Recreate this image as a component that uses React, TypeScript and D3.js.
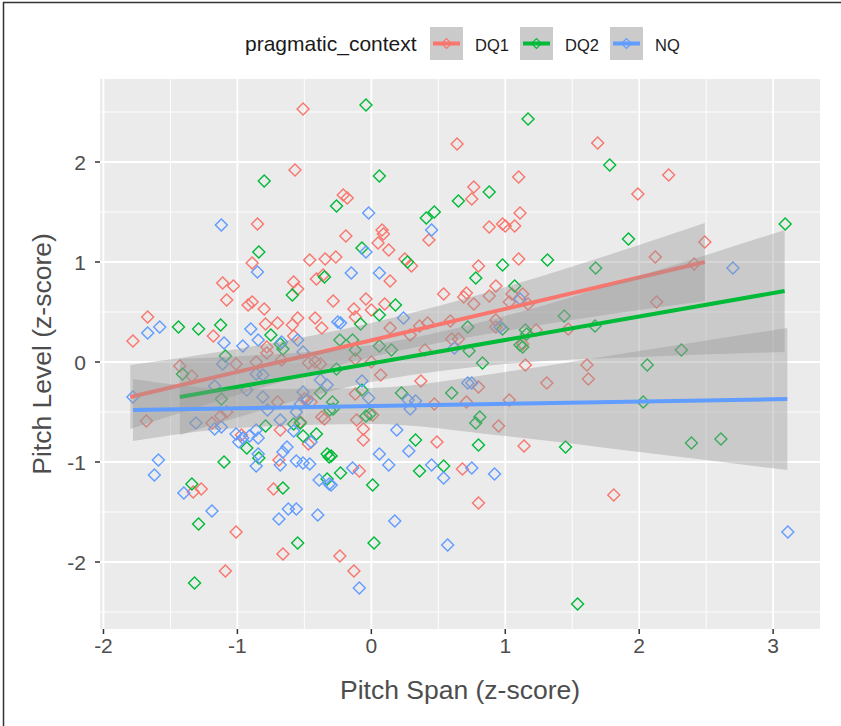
import React from "react";
import { scaleLinear, line, area, curveMonotoneX, symbol, symbolDiamond2, range } from "d3";

// scatter points, [pitch span, pitch level]
const dq1Points = [
  [-0.51, 2.53], [-0.57, 1.92], [-0.85, 1.38], [-0.89, 0.99], [-0.46, 1.02], [-0.345, 1.03], [-0.265, 1.05],
  [-0.21, 1.67], [-0.18, 1.64], [-1.11, 0.79], [-1.03, 0.76], [-1.08, 0.62], [-0.92, 0.57], [-0.89, 0.6],
  [-0.8, 0.53], [-0.58, 0.8], [-0.55, 0.73], [-0.41, 0.83], [-0.36, 0.87], [-0.285, 0.61], [-1.67, 0.45],
  [-1.78, 0.21], [-1.18, 0.26], [-0.79, 0.38], [-0.7, 0.39], [-0.59, 0.37], [-0.55, 0.44], [-0.42, 0.44],
  [-0.37, 0.34], [-0.58, 0.26], [-0.78, 0.15],
  [0.64, 2.18], [1.1, 1.85], [0.765, 1.75], [0.75, 1.63], [0.43, 1.22], [1.11, 1.49], [0.88, 1.35],
  [0.98, 1.38], [1.0, 1.36], [1.07, 1.36], [-0.19, 1.26], [0.08, 1.32], [0.09, 1.28], [0.05, 1.19],
  [0.13, 1.12], [0.25, 1.03], [0.3, 0.96], [1.1, 1.03], [0.8, 0.96], [0.14, 0.81], [-0.04, 0.63],
  [-0.13, 0.53], [-0.12, 0.45], [0.0, 0.52], [0.1, 0.58], [0.54, 0.68], [0.69, 0.65], [0.71, 0.69],
  [0.765, 0.58], [0.88, 0.66], [0.93, 0.76], [1.05, 0.68], [1.13, 0.68], [1.17, 0.58], [1.03, 0.6],
  [0.14, 0.34], [0.29, 0.27], [0.36, 0.36], [0.42, 0.39], [0.59, 0.41], [0.93, 0.42], [0.93, 0.35],
  [1.23, 0.32], [1.47, 0.33], [1.13, 0.18], [0.4, 0.12], [0.6, 0.23], [0.65, 0.23],
  [1.69, 2.19], [2.22, 1.87], [1.99, 1.68], [2.49, 1.2], [2.12, 1.05], [2.41, 0.98], [2.13, 0.6],
  [1.15, -0.03], [1.31, -0.21], [0.37, -0.19], [0.07, -0.13], [0.0, 0.0], [-0.12, 0.03], [-0.12, -0.32],
  [0.8, -0.25], [0.47, -0.42], [0.71, -0.4], [1.03, -0.38], [0.95, -0.64], [-0.11, -0.58], [-0.06, -0.67],
  [-0.06, -0.78], [0.01, -0.53], [0.49, -0.8], [1.14, -0.84], [0.68, -1.07], [0.8, -1.41], [-0.09, -1.09],
  [-0.235, -1.94], [-0.13, -2.09], [1.61, -0.03], [1.62, -0.17], [1.81, -1.33],
  [-1.68, -0.59], [-1.43, -0.04], [-1.34, -0.14], [-1.19, -0.61], [-1.125, -0.54], [-1.08, -0.5],
  [-1.01, -0.02], [-0.86, 0.0], [-0.78, 0.09], [-0.67, 0.02], [-0.47, -0.01], [-0.42, 0.0], [-0.38, -0.02],
  [-0.7, -0.4], [-0.68, -0.68], [-0.97, -0.73], [-1.33, -1.3], [-1.27, -1.27], [-1.01, -1.7], [-1.09, -2.09],
  [-0.53, -0.6], [-0.47, -0.82], [-0.69, -0.98], [-0.73, -1.27], [-0.66, -1.92], [-0.37, -0.55],
  [-0.35, -0.57], [-0.5, -0.37], [-0.45, -0.4],
];

const dq2Points = [
  [-0.8, 1.81], [-0.84, 1.1], [-0.26, 1.56], [-0.59, 0.67], [-0.35, 0.85], [-1.44, 0.35], [-1.29, 0.33],
  [-1.125, 0.37], [-0.75, 0.27], [-0.68, 0.18], [-0.66, 0.13], [-0.235, 0.22], [-1.09, 0.06],
  [-0.04, 2.57], [1.17, 2.43], [0.06, 1.86], [0.88, 1.7], [0.65, 1.61], [0.41, 1.44], [0.47, 1.5],
  [-0.07, 1.14], [0.27, 1.0], [1.315, 1.02], [0.98, 0.97], [0.78, 0.84], [0.18, 0.57], [0.06, 0.47],
  [-0.08, 0.38], [0.72, 0.35], [0.98, 0.33], [1.15, 0.32], [1.16, 0.28], [1.13, 0.15], [1.11, 0.17],
  [1.44, 0.46], [-0.14, 0.22], [0.06, 0.16], [0.15, 0.12], [0.73, 0.11], [-0.12, 0.12], [1.07, 0.76],
  [1.78, 1.97], [3.09, 1.38], [1.92, 1.23], [1.675, 0.94], [1.67, 0.36], [2.315, 0.12],
  [0.83, -0.01], [-0.07, -0.28], [0.225, -0.31], [0.6, -0.31], [0.81, -0.55], [0.78, -0.61],
  [-0.285, -0.47], [-0.04, -0.54], [-0.01, -0.52], [0.33, -0.78], [0.8, -0.83], [1.45, -0.85],
  [0.54, -1.04], [0.36, -1.09], [-0.23, -1.11], [0.01, -1.23], [-0.3, -0.94], [0.02, -1.81], [1.54, -2.42],
  [2.06, -0.03], [2.03, -0.4], [2.39, -0.81], [2.61, -0.77],
  [-1.41, -0.12], [-1.12, -0.37], [-0.26, -0.07], [-0.79, -0.64], [-0.93, -0.86], [-0.84, -0.96],
  [-1.1, -1.0], [-1.34, -1.22], [-1.29, -1.62], [-1.32, -2.21], [-0.58, -0.62], [-0.53, -0.61],
  [-0.51, -0.74], [-0.41, -0.72], [-0.33, -0.92], [-0.315, -0.95], [-0.33, -1.17], [-0.66, -1.26],
  [-0.55, -1.81], [-0.38, -0.31], [-0.29, -0.4], [-0.31, -0.48],
];

const nqPoints = [
  [-1.12, 1.37], [-0.85, 0.9], [-1.67, 0.29], [-1.58, 0.35], [-1.1, 0.19], [-0.96, 0.16], [-0.9, 0.33],
  [-0.845, 0.22], [-0.55, 0.22], [-0.67, 0.2], [-0.25, 0.4], [-0.51, 0.1],
  [-0.02, 1.49], [0.45, 1.32], [-0.04, 1.1], [-0.15, 0.89], [0.06, 0.89], [-0.23, 0.39], [0.24, 0.44],
  [1.11, 0.63], [0.96, 0.35], [0.62, 0.14], [2.7, 0.94],
  [-0.07, -0.19], [-0.02, -0.36], [0.275, -0.38], [0.33, -0.39], [0.29, -0.47], [0.72, -0.21], [0.75, -0.21],
  [0.19, -0.68], [0.06, -0.92], [0.28, -0.89], [0.13, -1.03], [0.45, -1.03], [0.54, -1.16], [0.75, -1.06],
  [0.92, -1.12], [-0.14, -1.06], [-0.3, -1.23], [0.175, -1.59], [0.57, -1.83], [-0.09, -2.26], [3.11, -1.7],
  [-1.78, -0.35], [-1.17, -0.24], [-1.31, -0.61], [-1.17, -0.67], [-1.12, -0.65], [-1.11, -0.02],
  [-0.86, -0.12], [-0.81, -0.13], [-0.93, -0.28], [-0.81, -0.35], [-0.775, -0.48], [-0.68, -0.58],
  [-0.86, -0.68], [-0.845, -0.76], [-0.91, -0.74], [-0.96, -0.76], [-1.01, -0.72], [-0.99, -0.8],
  [-0.845, -0.92], [-0.86, -1.04], [-1.59, -0.98], [-1.62, -1.13], [-1.4, -1.31], [-1.19, -1.49],
  [-0.58, -0.69], [-0.63, -0.85], [-0.45, -0.8], [-0.66, -0.9], [-0.68, -1.03], [-0.56, -0.99],
  [-0.51, -1.01], [-0.46, -1.02], [-0.39, -1.18], [-0.315, -1.22], [-0.62, -1.47], [-0.56, -1.47],
  [-0.69, -1.57], [-0.4, -1.53], [-0.38, -0.18], [-0.33, -0.23], [-0.51, -0.3], [-0.48, -0.38],
  [-0.53, -0.42], [-0.56, -0.5],
];

// lm fit ends and the confidence band [x, low, high]
const dq1Fit = [[-1.8, -0.35], [2.49, 1.0]];
const dq2Fit = [[-1.43, -0.35], [3.086, 0.71]];
const nqFit = [[-1.78, -0.48], [3.106, -0.37]];

const dq1Band = [[-1.8, -0.67, -0.03], [-1, -0.33, 0.13], [0, 0.05, 0.39], [1, 0.31, 0.75], [2, 0.52, 1.17], [2.49, 0.61, 1.39]];
const dq2Band = [[-1.43, -0.73, 0.03], [-1, -0.555, 0.057], [0, -0.2, 0.17], [1, -0.02, 0.46], [2, 0.05, 0.86], [3.086, 0.1, 1.32]];
const nqBand = [[-1.78, -0.79, -0.17], [-1, -0.66, -0.27], [0, -0.62, -0.26], [1, -0.74, -0.1], [2, -0.9, 0.11], [3.106, -1.08, 0.34]];

const groupNames = ["DQ1", "DQ2", "NQ"];
const groupColors = ["#F8766D", "#00BA38", "#619CFF"];
const xTicks = [-2, -1, 0, 1, 2, 3];
const yTicks = [-2, -1, 0, 1, 2];

const W = 841;
const H = 726;

export default function App() {
  const x = scaleLinear().domain([-2.026, 3.35]).range([100, 820]);
  const y = scaleLinear().domain([-2.67, 2.83]).range([629, 79]);

  const groups = [
    { pts: dq1Points, fit: dq1Fit, band: dq1Band },
    { pts: dq2Points, fit: dq2Fit, band: dq2Band },
    { pts: nqPoints, fit: nqFit, band: nqBand },
  ];

  const diamond = symbol(symbolDiamond2, 92)();
  const keyDiamond = symbol(symbolDiamond2, 62)();

  const fitLine = line<number[]>().x((d) => x(d[0])).y((d) => y(d[1]));
  const bandArea = area<number[]>()
    .x((d) => x(d[0]))
    .y0((d) => y(d[1]))
    .y1((d) => y(d[2]))
    .curve(curveMonotoneX);

  const [x0, x1] = x.range();
  const [y0, y1] = y.range();
  const xMinor = range(-1.5, 3.4, 1);
  const yMinor = range(-2.5, 2.9, 1);

  const legendX = [430, 520, 610];

  return (
    <div style={{ position: "absolute", left: 0, top: 0 }}>
      <svg width={W} height={H} style={{ display: "block", fontFamily: "Liberation Sans, Arial, sans-serif" }}>
        <rect x={0} y={0} width={W} height={H} fill="#fff" />
        <rect x={3.5} y={2.5} width={W + 20} height={H + 20} fill="none" stroke="#333" strokeWidth={1.5} />

        {/* panel */}
        <rect x={x0} y={y1} width={x1 - x0} height={y0 - y1} fill="#EBEBEB" />
        {xMinor.map((v) => (
          <line key={"xm" + v} x1={x(v)} x2={x(v)} y1={y1} y2={y0} stroke="#fff" strokeWidth={0.9} />
        ))}
        {yMinor.map((v) => (
          <line key={"ym" + v} x1={x0} x2={x1} y1={y(v)} y2={y(v)} stroke="#fff" strokeWidth={0.9} />
        ))}
        {xTicks.map((v) => (
          <line key={"xg" + v} x1={x(v)} x2={x(v)} y1={y1} y2={y0} stroke="#fff" strokeWidth={1.8} />
        ))}
        {yTicks.map((v) => (
          <line key={"yg" + v} x1={x0} x2={x1} y1={y(v)} y2={y(v)} stroke="#fff" strokeWidth={1.8} />
        ))}

        {/* points */}
        {groups.map((g, gi) =>
          g.pts.map((p, i) => (
            <path
              key={gi + "-" + i}
              d={diamond as string}
              transform={`translate(${x(p[0])},${y(p[1])})`}
              fill="none"
              stroke={groupColors[gi]}
              strokeWidth={1.4}
            />
          ))
        )}

        {/* smooth: ribbon then line, per group */}
        {groups.map((g, gi) => (
          <g key={"s" + gi}>
            <path d={bandArea(g.band) as string} fill="#999999" fillOpacity={0.4} />
            <path d={fitLine(g.fit) as string} fill="none" stroke={groupColors[gi]} strokeWidth={4} />
          </g>
        ))}

        {/* axes */}
        {xTicks.map((v) => (
          <g key={"xt" + v}>
            <line x1={x(v)} x2={x(v)} y1={y0} y2={y0 + 5} stroke="#333" strokeWidth={1.5} />
            <text x={x(v)} y={653} textAnchor="middle" fontSize={21} fill="#4D4D4D">
              {v}
            </text>
          </g>
        ))}
        {yTicks.map((v) => (
          <g key={"yt" + v}>
            <line x1={x0 - 5} x2={x0} y1={y(v)} y2={y(v)} stroke="#333" strokeWidth={1.5} />
            <text x={86} y={y(v) + 7.5} textAnchor="end" fontSize={21} fill="#4D4D4D">
              {v}
            </text>
          </g>
        ))}
        <text x={(x0 + x1) / 2} y={699} textAnchor="middle" fontSize={26.5} fill="#4D4D4D">
          Pitch Span (z-score)
        </text>
        <text
          transform={`translate(51,${(y0 + y1) / 2}) rotate(-90)`}
          textAnchor="middle"
          fontSize={26.5}
          fill="#4D4D4D"
        >
          Pitch Level (z-score)
        </text>

        {/* legend */}
        <text x={245} y={51} fontSize={21} fill="#1a1a1a">
          pragmatic_context
        </text>
        {groupNames.map((name, i) => (
          <g key={name}>
            <rect x={legendX[i]} y={27} width={33} height={33} fill="#CBCBCB" />
            <line x1={legendX[i] + 3} x2={legendX[i] + 30} y1={43.5} y2={43.5} stroke={groupColors[i]} strokeWidth={4} />
            <path
              d={keyDiamond as string}
              transform={`translate(${legendX[i] + 16.5},43.5)`}
              fill="none"
              stroke={groupColors[i]}
              strokeWidth={1.2}
            />
            <text x={legendX[i] + 45} y={51} fontSize={16.5} fill="#1a1a1a">
              {name}
            </text>
          </g>
        ))}
      </svg>
    </div>
  );
}
